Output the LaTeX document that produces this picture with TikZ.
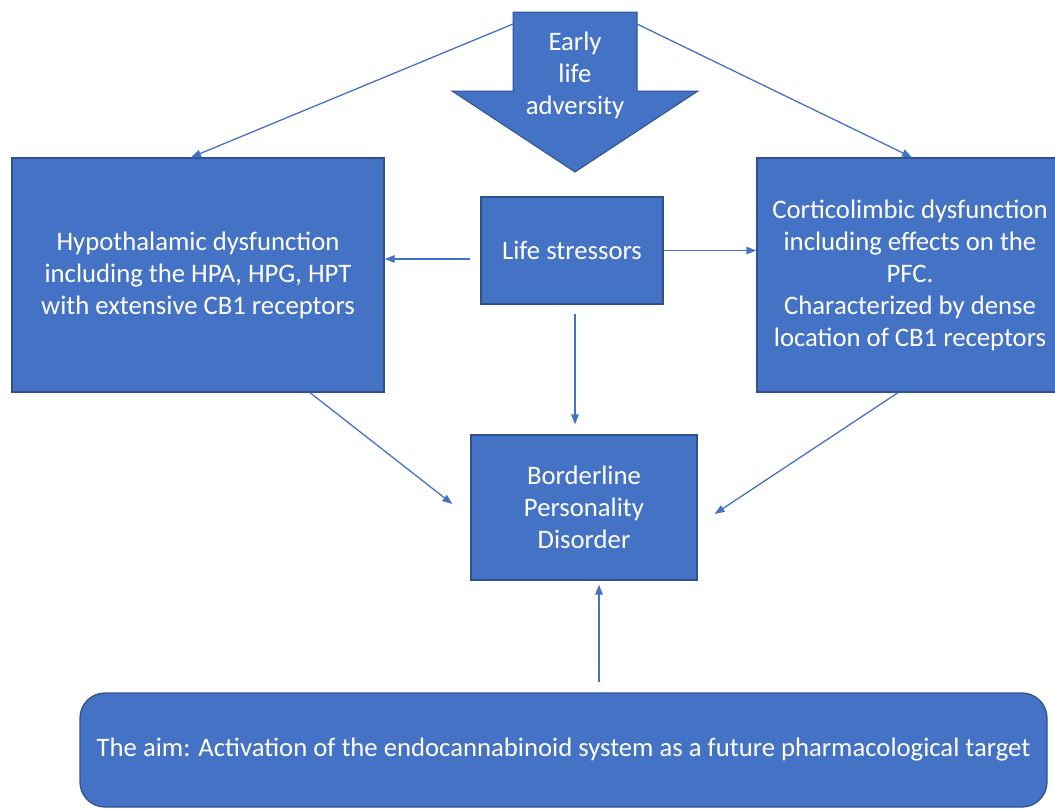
\documentclass[tikz,border=0pt]{standalone}
\usepackage{fontspec}
\setmainfont{Carlito}
\usetikzlibrary{arrows.meta,calc}
\definecolor{boxblue}{HTML}{4472C4}
\definecolor{edgeblue}{HTML}{2F528F}
\begin{document}
\begin{tikzpicture}[x=1pt,y=-1pt,
  box/.style={fill=boxblue,draw=edgeblue,line width=1.3pt,text=white,align=center,
    font=\fontsize{26.7}{32}\selectfont,inner sep=0pt},
  conn/.style={draw=boxblue,line width=1.3pt,-{Triangle[length=10pt,width=7.5pt]}}]
\useasboundingbox (0,0) rectangle (1055,809);
\clip (0,0) rectangle (1055,809);
% big down arrow
\fill[boxblue,draw=edgeblue,line width=1pt] (513,12) -- (637,12) -- (637,91) -- (698,91) -- (575,172) -- (452,91) -- (513,91) -- cycle;
\node[text=white,align=center,font=\fontsize{26.7}{32}\selectfont,inner sep=0pt] (ela) at (575,75) {Early\\life\\adversity};
\coordinate (shL) at (513,24);
\coordinate (shR) at (637,24);
% boxes
\node[box,minimum width=372pt,minimum height=234pt] (hyp) at (198,275)
  {\raisebox{-2pt}{}Hypothalamic dysfunction\\including the HPA, HPG, HPT\\with extensive CB1 receptors};
\node[box,minimum width=306pt,minimum height=234pt] (cort) at (910,275)
  {Corticolimbic dysfunction\\including effects on the\\PFC.\\Characterized by dense\\location of CB1 receptors};
\node[box,minimum width=182pt,minimum height=107pt] (str) at (572,250.5) {Life stressors};
\node[box,minimum width=226pt,minimum height=145pt] (bpd) at (584,507.5)
  {Borderline\\Personality\\Disorder};
\node[box,rounded corners=25pt,minimum width=967pt,minimum height=114pt] (aim) at (563.5,750)
  {The aim: Activation of the endocannabinoid system as a future pharmacological target};
% connectors
\draw[conn] (shL) -- ($(hyp.north)+(-7,0)$);
\draw[conn] (shR) -- ($(cort.north)+(2,0)$);
\draw[conn] ($(str.west)+(-10,8.5)$) coordinate (a1) -- (a1 -| hyp.east);
\draw[conn] (str.east) -- (str.east -| cort.west);
\draw[conn] ($(str.south)+(3,9)$) coordinate (a3) -- ($(a3 |- bpd.north)+(0,-10)$);
\draw[conn] ($(hyp.south)+(112,0)$) -- ($(bpd.west)+(-18,-3.5)$);
\draw[conn] ($(cort.south)+(-12,0)$) -- ($(bpd.east)+(17,6.5)$);
\draw[conn] ($(aim.north)+(35.5,-10)$) -- ($(bpd.south)+(15,4)$);
\end{tikzpicture}
\end{document}
